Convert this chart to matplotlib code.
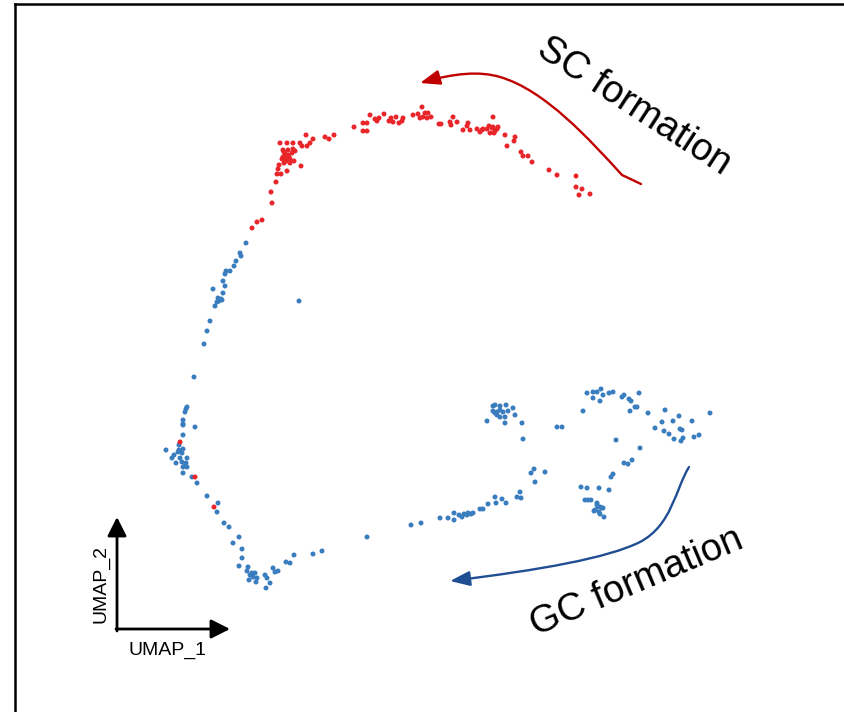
import matplotlib.pyplot as plt
from matplotlib.path import Path
from matplotlib.patches import FancyArrowPatch
from matplotlib.lines import Line2D
import numpy as np

plt.rcParams['font.family'] = ['Liberation Sans', 'DejaVu Sans']

# UMAP coordinates (UMAP_1, UMAP_2)
sc_cells = [  # SC formation lineage (red)
    (27.2, -20.3), (27.1, -19.2), (27.6, -18.2), (27.7, -17.4), (28.1, -17.4), (27.8, -16.9), (28.7, -17.1),
    (30.1, -16.6), (28.4, -16.3), (29.0, -16.3), (29.4, -16.1), (28.2, -15.9), (28.6, -15.8), (28.3, -15.7),
    (28.8, -15.5), (29.2, -15.3), (29.5, -15.1), (28.3, -15.0), (28.8, -15.0), (29.3, -14.9), (28.5, -15.4),
    (28.0, -14.3), (28.7, -14.3), (29.3, -14.3), (30.0, -14.3), (30.2, -14.6), (30.7, -14.6), (31.0, -14.3),
    (31.3, -13.9), (30.6, -13.5), (32.5, -13.7), (32.9, -13.9), (33.4, -13.5), (35.4, -12.7), (36.3, -13.1),
    (36.7, -13.1), (36.3, -12.3), (36.7, -12.3), (37.0, -11.5), (37.5, -11.9), (37.7, -12.1), (37.9, -11.8),
    (38.4, -11.4), (38.9, -12.1), (39.1, -11.8), (39.3, -12.2), (39.6, -11.7), (39.9, -12.3), (40.2, -12.1),
    (40.3, -11.8), (41.3, -11.5), (41.8, -11.4), (42.2, -10.7), (42.3, -11.7), (42.5, -11.3), (42.7, -11.8),
    (42.8, -11.3), (43.1, -11.7), (42.0, -11.8), (43.9, -12.4), (28.6, -16.1), (28.9, -15.7), (28.4, -15.2),
    (29.0, -15.9), (27.9, -16.5), (44.1, -12.4), (45.0, -12.2), (45.1, -12.5), (45.3, -11.7), (45.7, -12.2),
    (46.3, -13.0), (46.7, -12.6), (46.8, -12.3), (47.0, -13.0), (47.7, -12.9), (48.0, -13.2), (48.2, -13.0),
    (48.3, -12.9), (48.7, -12.9), (48.9, -12.6), (49.0, -13.3), (49.2, -12.8), (49.3, -11.7), (49.4, -13.3),
    (49.5, -13.1), (49.7, -12.9), (49.8, -12.7), (49.3, -12.7), (50.5, -13.5), (50.7, -14.6), (51.4, -14.1),
    (51.5, -13.7), (52.1, -15.2), (52.3, -15.6), (52.8, -15.6), (53.2, -16.2), (54.9, -17.0), (55.7, -17.5),
    (57.6, -17.6), (57.6, -18.7), (58.2, -18.9), (57.9, -19.5), (59.0, -19.4), (26.2, -22.0), (25.7, -22.2),
    (25.2, -22.8), (18.0, -44.2), (19.5, -47.7), (21.4, -50.7),
]

gc_cells = [  # GC formation lineage (blue)
    (24.6, -24.3), (24.0, -25.3), (24.1, -25.6), (23.6, -26.1), (23.4, -26.6), (23.0, -27.1), (22.6, -27.1),
    (22.5, -27.4), (22.3, -28.1), (22.5, -28.6), (21.3, -28.9), (22.3, -29.3), (21.8, -29.8), (22.1, -29.9),
    (21.9, -30.1), (21.7, -30.2), (22.2, -30.0), (21.5, -30.6), (29.9, -30.1), (21.0, -32.1), (20.7, -33.1),
    (20.4, -34.4), (19.4, -37.7),
    (18.7, -40.7), (18.6, -40.9), (18.5, -41.2), (18.3, -42.0), (18.3, -42.4), (18.3, -42.5), (19.5, -42.7),
    (18.3, -43.5), (17.9, -44.5), (16.6, -45.0), (17.9, -45.0), (18.3, -44.9), (18.2, -45.3), (17.8, -45.2),
    (17.4, -45.5), (17.2, -45.8), (18.0, -45.8), (17.6, -46.3), (18.2, -46.2), (18.7, -45.8), (18.6, -46.3),
    (18.5, -46.6), (18.7, -46.7), (18.3, -46.7), (18.3, -47.3), (19.2, -47.7), (19.7, -48.3), (20.7, -49.6),
    (21.8, -50.3), (21.7, -51.2), (22.4, -52.3), (22.9, -52.7), (23.9, -53.7), (23.3, -54.3), (24.2, -54.9),
    (24.2, -55.8), (23.9, -56.6), (24.8, -56.7), (24.7, -57.1), (25.2, -57.3), (25.0, -57.5), (25.5, -57.3),
    (25.3, -57.7), (25.7, -57.8), (24.9, -58.0), (25.6, -58.2), (26.5, -57.5), (26.7, -57.8), (27.0, -58.3),
    (26.6, -58.8), (27.3, -56.8), (27.5, -57.2), (27.8, -57.1), (28.6, -56.2), (29.0, -56.3), (29.4, -55.5),
    (31.3, -55.4), (32.2, -55.1),
    (36.7, -53.7), (41.1, -52.5), (42.1, -52.3), (44.0, -51.8), (44.8, -51.8), (45.4, -52.0), (45.4, -51.3),
    (45.9, -51.5), (46.2, -51.7), (46.4, -51.4), (46.7, -51.5), (46.8, -51.3), (47.1, -51.4), (47.3, -51.3),
    (48.0, -50.9), (48.3, -50.9), (48.8, -50.4), (49.6, -50.3), (49.5, -49.7), (50.2, -49.9), (50.6, -50.3),
    (51.7, -49.7), (52.1, -49.8), (52.0, -49.2), (53.1, -47.3), (53.4, -46.9), (53.5, -48.2), (54.5, -47.2),
    (55.7, -42.7), (56.2, -42.7), (52.3, -43.9), (52.2, -42.3), (48.7, -42.1), (49.3, -40.6), (49.5, -40.5),
    (50.0, -40.6), (50.6, -40.5), (51.3, -40.8), (49.3, -41.1), (49.7, -41.2), (50.0, -41.0), (50.3, -41.2),
    (50.8, -41.1), (49.7, -41.5), (50.0, -41.7), (50.5, -41.7), (51.5, -41.5), (50.5, -42.3), (49.5, -41.3),
    (58.3, -41.1), (58.7, -39.3), (59.3, -39.2), (59.7, -39.2), (60.1, -38.9), (60.3, -39.5), (59.3, -39.8),
    (60.0, -40.1), (60.9, -39.3), (61.3, -39.2), (62.2, -39.7), (62.4, -39.5), (62.9, -39.9), (63.1, -40.1),
    (63.9, -39.3), (63.5, -40.7), (63.7, -40.7), (63.0, -41.1), (64.8, -41.3), (66.5, -41.0), (65.5, -42.8),
    (66.2, -42.2), (66.4, -43.1), (66.9, -43.4), (67.3, -42.1), (67.9, -41.6), (68.0, -42.9), (68.2, -43.0),
    (67.4, -43.9), (68.1, -44.1), (68.3, -43.8), (69.2, -42.1), (69.4, -43.7), (69.9, -43.5), (71.0, -41.3),
    (61.6, -44.0), (64.0, -44.8), (62.4, -46.3), (62.8, -46.4), (63.2, -46.0), (61.1, -47.7), (61.3, -47.4),
    (60.9, -49.0), (59.9, -48.8), (58.7, -48.8), (58.1, -48.7), (58.5, -50.0), (58.8, -50.0), (59.1, -50.0),
    (59.7, -50.5), (59.8, -50.7), (60.0, -50.7), (60.2, -50.8), (59.5, -51.0), (59.9, -51.2), (60.3, -50.8),
    (59.4, -51.1), (60.0, -51.4), (60.4, -51.7), (59.7, -50.3),
]

sc = np.array(sc_cells)
gc = np.array(gc_cells)

fig = plt.figure(figsize=(8.44, 7.12), dpi=100)
ax = fig.add_axes([0, 0, 1, 1])
ax.set_xlim(0, 84.4)
ax.set_ylim(-71.2, 0)
ax.axis('off')

ax.scatter(gc[:, 0], gc[:, 1], s=13, color='#3a7dbf', edgecolors='none', zorder=2)
ax.scatter(sc[:, 0], sc[:, 1], s=13, color='#e8262a', edgecolors='none', zorder=3)

# trajectory arrows
sc_path = Path([(64.1, -18.4), (62.2, -17.5),
                (59.0, -14.0), (54.5, -9.0), (50.0, -7.7),
                (48.0, -7.1), (45.5, -7.3), (42.0, -8.3)],
               [Path.MOVETO, Path.LINETO,
                Path.CURVE4, Path.CURVE4, Path.CURVE4,
                Path.CURVE4, Path.CURVE4, Path.CURVE4])
gc_path = Path([(68.9, -46.7),
                (67.5, -49.0), (67.2, -52.5), (64.0, -54.2),
                (60.8, -55.8), (54.0, -57.0), (45.0, -58.1)],
               [Path.MOVETO,
                Path.CURVE4, Path.CURVE4, Path.CURVE4,
                Path.CURVE4, Path.CURVE4, Path.CURVE4])
for p, col in [(sc_path, '#c00000'), (gc_path, '#1f4e93')]:
    ax.add_patch(FancyArrowPatch(path=p, arrowstyle='-|>,head_length=1.2,head_width=0.45',
                                 mutation_scale=10, lw=1.7, color=col,
                                 shrinkA=0, shrinkB=0, zorder=4))

ax.text(63.4, -10.6, 'SC formation', rotation=-33, fontsize=27.5,
        ha='center', va='center', rotation_mode='anchor')
ax.text(63.7, -58.2, 'GC formation', rotation=23, fontsize=27.5,
        ha='center', va='center', rotation_mode='anchor')

# UMAP axis key
key = dict(arrowstyle='-|>,head_length=1.15,head_width=0.58', lw=2, color='black',
           shrinkA=0, shrinkB=0, mutation_scale=10)
ax.annotate('', xy=(11.7, -51.7), xytext=(11.7, -63.1), arrowprops=key)
ax.annotate('', xy=(23.0, -62.9), xytext=(11.6, -62.9), arrowprops=key)
ax.text(10.1, -58.4, 'UMAP_2', rotation=90, fontsize=14, ha='center', va='center')
ax.text(16.7, -65.0, 'UMAP_1', fontsize=14, ha='center', va='center')

# panel frame
fig.add_artist(Line2D([15.5 / 844, 15.5 / 844], [0, 1 - 4 / 712], color='black', lw=1.8,
                      transform=fig.transFigure))
fig.add_artist(Line2D([15.5 / 844, 1], [1 - 4 / 712, 1 - 4 / 712], color='black', lw=1.8,
                      transform=fig.transFigure))

fig.savefig('out.png', dpi=100)
